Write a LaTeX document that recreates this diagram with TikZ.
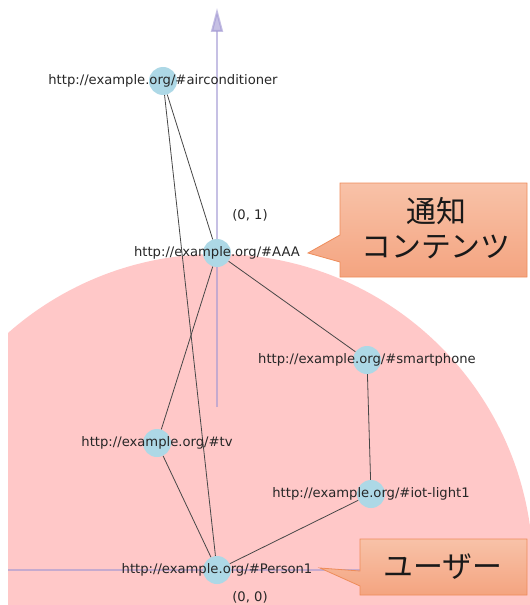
\documentclass[tikz,border=0pt]{standalone}
\usepackage{fontspec}
\setmainfont{DejaVu Sans}
\newfontfamily\cjk{Noto Sans CJK JP}
\usetikzlibrary{positioning, arrows.meta, backgrounds}

\definecolor{bgpink}{RGB}{255,200,200}
\definecolor{dotblue}{RGB}{173,216,230}
\definecolor{axislav}{RGB}{160,150,210}
\definecolor{calltop}{RGB}{248,194,168}
\definecolor{callbot}{RGB}{244,164,128}
\definecolor{callline}{RGB}{238,140,90}

\begin{document}
\begin{tikzpicture}[x=1bp, y=-1bp,
    dot/.style={circle, fill=dotblue, minimum size=28bp, inner sep=0pt},
    lbl/.style={font=\fontsize{13.2}{15}\selectfont, text=black!85, inner sep=0pt},
    edge/.style={draw=black!72, line width=0.8bp},
    axis/.style={draw=axislav, opacity=0.6, line width=2bp},
    notebox/.style={draw=callline, line width=0.8bp, top color=calltop, bottom color=callbot},
    notetext/.style={text=black!90, font=\cjk\fontsize{30}{35}\selectfont, align=center, inner sep=0pt}]
    \useasboundingbox (0,0) rectangle (530,605);

    \node[dot] (air) at (163,81) {};
    \node[dot] (aaa) at (217,253) {};
    \node[dot] (phone) at (367,360) {};
    \node[dot] (tv) at (157,443) {};
    \node[dot] (light) at (371,494) {};
    \node[dot] (person) at (217,570) {};

    \begin{pgfonlayer}{background}
      % disc round Person1
      \begin{scope}
        \clip (8,0) rectangle (530,605);
        \fill[bgpink] (person) circle[radius=316bp];
      \end{scope}
      % axes
      \coordinate (ybot) at (217,407);
      \coordinate (ytop) at (217,8);
      \coordinate (xleft) at (8,570);
      \coordinate (xright) at (400,570);
      \draw[axis] (xleft) -- (xright);
      \draw[axis, -{Triangle[length=24bp, width=12bp]}] (ybot) -- (ytop);
      % edges
      \draw[edge] (air) -- (aaa);
      \draw[edge] (air) -- (person);
      \draw[edge] (aaa) -- (tv);
      \draw[edge] (aaa) -- (phone);
      \draw[edge] (tv) -- (person);
      \draw[edge] (phone) -- (light);
      \draw[edge] (light) -- (person);
    \end{pgfonlayer}

    \node[lbl] (air-l) at (air) {http://example.org/\#airconditioner};
    \node[lbl] (aaa-l) at (aaa) {http://example.org/\#AAA};
    \node[lbl] (phone-l) at (phone) {http://example.org/\#smartphone};
    \node[lbl] (tv-l) at (tv) {http://example.org/\#tv};
    \node[lbl] (light-l) at (light) {http://example.org/\#iot-light1};
    \node[lbl] (person-l) at (person) {http://example.org/\#Person1};

    \node[lbl] (one) at (250,215) {(0, 1)};
    \node[lbl] (zero) at (250,597) {(0, 0)};

    % callouts
    \path[notebox] (340,183) -- (527,183) -- (527,277) -- (340,277)
      -- (340,262) -- (308,253) -- (340,235) -- cycle;
    \node[notetext] (notice) at (436,228) {通知\\コンテンツ};
    \path[notebox] (360,539) -- (527,539) -- (527,595) -- (360,595)
      -- (360,586) -- (320,568) -- (360,571) -- cycle;
    \node[notetext] (user) at (443,567) {ユーザー};
  \end{tikzpicture}
\end{document}
